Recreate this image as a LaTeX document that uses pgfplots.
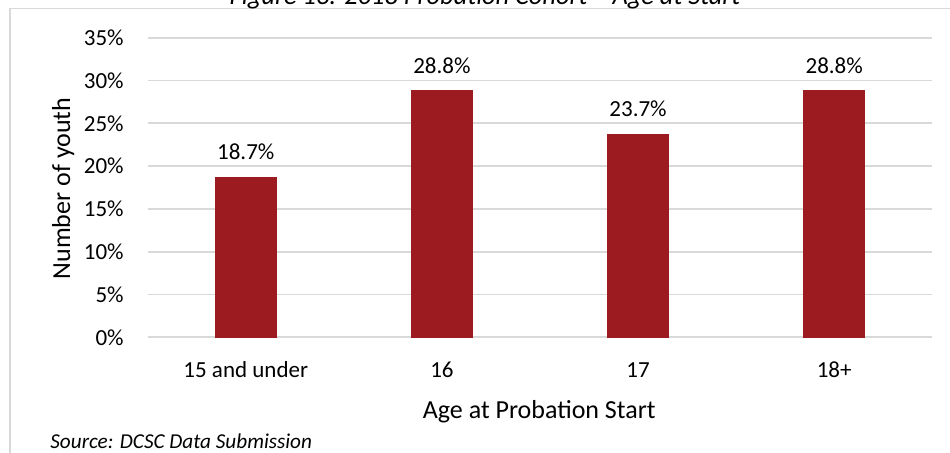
\documentclass[border=0pt]{standalone}
\usepackage{pgfplots}
\pgfplotsset{compat=1.18}
\usepackage{fontspec}
\setmainfont{Carlito}
\definecolor{barred}{RGB}{155,27,32}
\definecolor{gridgray}{RGB}{217,217,217}
\begin{document}
\begin{tikzpicture}
\begin{axis}[
  at={(73.85pt,57.35pt)}, anchor=south west,
  width=392.3pt, height=149.8pt, scale only axis,
  xmin=-0.5, xmax=3.5, ymin=0, ymax=35,
  xtick=data, xticklabels={15 and under,16,17,18+},
  ytick={0,5,...,35},
  yticklabel={\pgfmathprintnumber{\tick}\%},
  /pgf/number format/assume math mode=true,
  axis line style={draw=none},
  major tick length=0pt,
  ymajorgrids, grid style={gridgray, line width=0.9pt},
  ticklabel style={font=\fontsize{11.5}{13}\selectfont, inner sep=0pt},
  yticklabel style={anchor=east, xshift=-11.85pt},
  xticklabel style={anchor=base, yshift=-20pt},
  ybar, bar width=30.5pt,
  nodes near coords={\pgfmathprintnumber[fixed,precision=1,fixed zerofill]{\pgfplotspointmeta}\%},
  every node near coord/.append style={anchor=base, yshift=8.85pt, inner sep=0pt, font=\fontsize{11.5}{13}\selectfont, text=black},
  clip=false,
]
\addplot[fill=barred, draw=barred] coordinates {(0,18.7) (1,28.8) (2,23.7) (3,28.8)};
\end{axis}
\draw[gridgray, line width=0.7pt] (5pt,-2pt) -- (5pt,221.75pt) -- (478pt,221.75pt);
\node[font=\itshape\fontsize{13.2}{15}\selectfont, anchor=base, inner sep=0pt] at (242.5pt,223.75pt) {Figure 13: 2018 Probation Cohort – Age at Start};
\node[font=\itshape\fontsize{10.6}{12}\selectfont, anchor=base west, inner sep=0pt] at (25pt,1.7pt) {Source: DCSC Data Submission};
\node[font=\fontsize{13}{15}\selectfont, anchor=base, inner sep=0pt] at (269.6pt,16.85pt) {Age at Probation Start};
\node[font=\fontsize{13}{15}\selectfont, rotate=90, anchor=base, inner sep=0pt] at (35pt,131.75pt) {Number of youth};
\pgfresetboundingbox
\path[use as bounding box] (0,0) rectangle (475pt,226pt);
\end{tikzpicture}
\end{document}
